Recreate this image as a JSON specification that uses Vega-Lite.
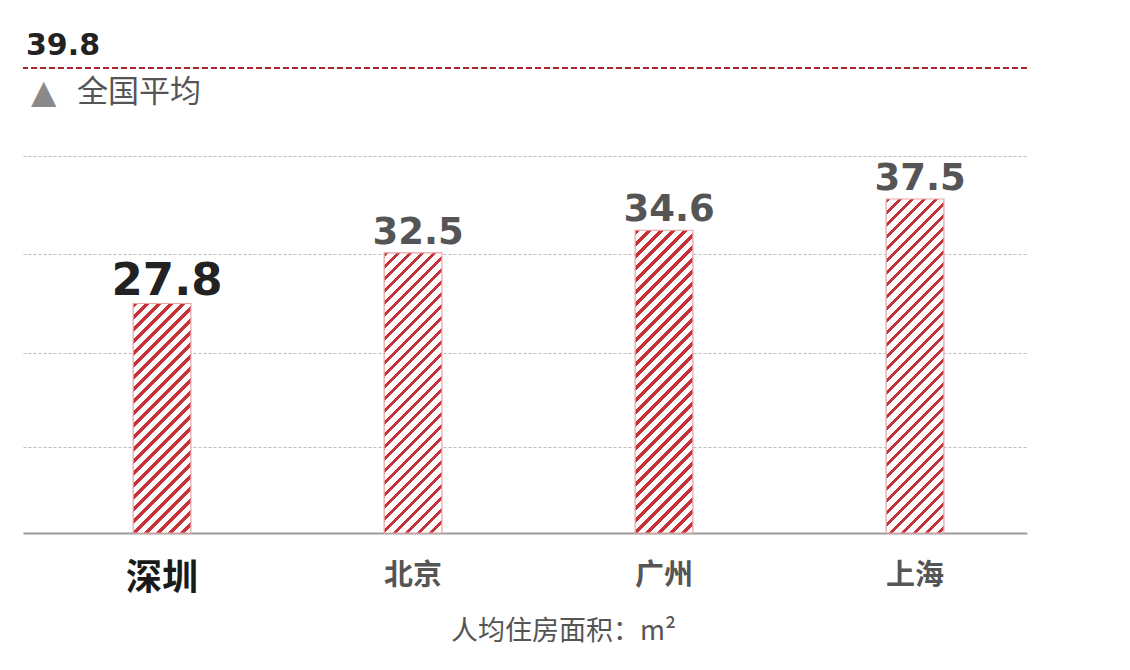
{
  "$schema": "https://vega.github.io/schema/vega-lite/v6.json",
  "width": 1004,
  "height": 465,
  "autosize": {"type": "none"},
  "padding": {"left": 23, "top": 68, "right": 103, "bottom": 137},
  "background": "#ffffff",
  "config": {"view": {"stroke": null}, "font": "Noto Sans CJK SC"},
  "datasets": {
    "cities": [
      {"city": "深圳", "value": 27.8},
      {"city": "北京", "value": 32.5},
      {"city": "广州", "value": 34.6},
      {"city": "上海", "value": 37.5}
    ],
    "avg": [{"name": "全国平均", "value": 39.8}]
  },
  "layer": [
    {
      "data": {"name": "cities"},
      "mark": {"type": "bar", "stroke": "#e8a3a3", "strokeWidth": 1.2},
      "encoding": {
        "x": {
          "field": "city", "type": "nominal", "sort": null,
          "scale": {"paddingInner": 0.77, "paddingOuter": 0.385, "align": 0.57},
          "axis": {
            "title": "人均住房面积：m²",
            "domainColor": "#9c9c9c", "domainWidth": 2,
            "ticks": false, "tickSize": 0, "labelAngle": 0, "labelPadding": 28,
            "labelFontSize": {"condition": {"test": "datum.value === '深圳'", "value": 36}, "value": 29},
            "labelColor": {"condition": {"test": "datum.value === '深圳'", "value": "#1a1a1a"}, "value": "#555555"},
            "labelFontWeight": "bold",
            "titleFontSize": 27, "titleFontWeight": "normal", "titleColor": "#555555",
            "titlePadding": 22, "titleX": 540, "titleAlign": "center"
          }
        },
        "y": {
          "field": "value", "type": "quantitative",
          "scale": {"domain": [6.5, 37.5, 39.8], "range": [465, 131, 0], "zero": false, "nice": false, "clamp": true},
          "axis": {"values": [14.5, 23.2, 32.4, 38.25], "grid": true, "gridDash": [3, 2], "gridColor": "#bdbdbd", "gridWidth": 1, "labels": false, "ticks": false, "domain": false, "title": null}
        },
        "fill": {
          "condition": [
            {"test": "datum.city === '深圳'", "value": {"gradient": "linear", "x1": 0, "y1": 0, "x2": 0.4946, "y2": 1.9672, "stops": [
{"offset":0,"color":"#c8313a"},{"offset":0.01,"color":"#c8313a"},{"offset":0.01,"color":"#fff"},{"offset":0.025,"color":"#fff"},
{"offset":0.025,"color":"#c8313a"},{"offset":0.035,"color":"#c8313a"},{"offset":0.035,"color":"#fff"},{"offset":0.05,"color":"#fff"},
{"offset":0.05,"color":"#c8313a"},{"offset":0.06,"color":"#c8313a"},{"offset":0.06,"color":"#fff"},{"offset":0.075,"color":"#fff"},
{"offset":0.075,"color":"#c8313a"},{"offset":0.085,"color":"#c8313a"},{"offset":0.085,"color":"#fff"},{"offset":0.1,"color":"#fff"},
{"offset":0.1,"color":"#c8313a"},{"offset":0.11,"color":"#c8313a"},{"offset":0.11,"color":"#fff"},{"offset":0.125,"color":"#fff"},
{"offset":0.125,"color":"#c8313a"},{"offset":0.135,"color":"#c8313a"},{"offset":0.135,"color":"#fff"},{"offset":0.15,"color":"#fff"},
{"offset":0.15,"color":"#c8313a"},{"offset":0.16,"color":"#c8313a"},{"offset":0.16,"color":"#fff"},{"offset":0.175,"color":"#fff"},
{"offset":0.175,"color":"#c8313a"},{"offset":0.185,"color":"#c8313a"},{"offset":0.185,"color":"#fff"},{"offset":0.2,"color":"#fff"},
{"offset":0.2,"color":"#c8313a"},{"offset":0.21,"color":"#c8313a"},{"offset":0.21,"color":"#fff"},{"offset":0.225,"color":"#fff"},
{"offset":0.225,"color":"#c8313a"},{"offset":0.235,"color":"#c8313a"},{"offset":0.235,"color":"#fff"},{"offset":0.25,"color":"#fff"},
{"offset":0.25,"color":"#c8313a"},{"offset":0.26,"color":"#c8313a"},{"offset":0.26,"color":"#fff"},{"offset":0.275,"color":"#fff"},
{"offset":0.275,"color":"#c8313a"},{"offset":0.285,"color":"#c8313a"},{"offset":0.285,"color":"#fff"},{"offset":0.3,"color":"#fff"},
{"offset":0.3,"color":"#c8313a"},{"offset":0.31,"color":"#c8313a"},{"offset":0.31,"color":"#fff"},{"offset":0.325,"color":"#fff"},
{"offset":0.325,"color":"#c8313a"},{"offset":0.335,"color":"#c8313a"},{"offset":0.335,"color":"#fff"},{"offset":0.35,"color":"#fff"},
{"offset":0.35,"color":"#c8313a"},{"offset":0.36,"color":"#c8313a"},{"offset":0.36,"color":"#fff"},{"offset":0.375,"color":"#fff"},
{"offset":0.375,"color":"#c8313a"},{"offset":0.385,"color":"#c8313a"},{"offset":0.385,"color":"#fff"},{"offset":0.4,"color":"#fff"},
{"offset":0.4,"color":"#c8313a"},{"offset":0.41,"color":"#c8313a"},{"offset":0.41,"color":"#fff"},{"offset":0.425,"color":"#fff"},
{"offset":0.425,"color":"#c8313a"},{"offset":0.435,"color":"#c8313a"},{"offset":0.435,"color":"#fff"},{"offset":0.45,"color":"#fff"},
{"offset":0.45,"color":"#c8313a"},{"offset":0.46,"color":"#c8313a"},{"offset":0.46,"color":"#fff"},{"offset":0.475,"color":"#fff"},
{"offset":0.475,"color":"#c8313a"},{"offset":0.485,"color":"#c8313a"},{"offset":0.485,"color":"#fff"},{"offset":0.5,"color":"#fff"},
{"offset":0.5,"color":"#c8313a"},{"offset":0.51,"color":"#c8313a"},{"offset":0.51,"color":"#fff"},{"offset":0.525,"color":"#fff"},
{"offset":0.525,"color":"#c8313a"},{"offset":0.535,"color":"#c8313a"},{"offset":0.535,"color":"#fff"},{"offset":0.55,"color":"#fff"},
{"offset":0.55,"color":"#c8313a"},{"offset":0.56,"color":"#c8313a"},{"offset":0.56,"color":"#fff"},{"offset":0.575,"color":"#fff"},
{"offset":0.575,"color":"#c8313a"},{"offset":0.585,"color":"#c8313a"},{"offset":0.585,"color":"#fff"},{"offset":0.6,"color":"#fff"},
{"offset":0.6,"color":"#c8313a"},{"offset":0.61,"color":"#c8313a"},{"offset":0.61,"color":"#fff"},{"offset":0.625,"color":"#fff"},
{"offset":0.625,"color":"#c8313a"},{"offset":0.635,"color":"#c8313a"},{"offset":0.635,"color":"#fff"},{"offset":0.65,"color":"#fff"}
            ]}},
            {"test": "datum.city === '北京'", "value": {"gradient": "linear", "x1": 0, "y1": 0, "x2": 0.3386, "y2": 1.6439, "stops": [
{"offset":0,"color":"#c8313a"},{"offset":0.01,"color":"#c8313a"},{"offset":0.01,"color":"#fff"},{"offset":0.025,"color":"#fff"},
{"offset":0.025,"color":"#c8313a"},{"offset":0.035,"color":"#c8313a"},{"offset":0.035,"color":"#fff"},{"offset":0.05,"color":"#fff"},
{"offset":0.05,"color":"#c8313a"},{"offset":0.06,"color":"#c8313a"},{"offset":0.06,"color":"#fff"},{"offset":0.075,"color":"#fff"},
{"offset":0.075,"color":"#c8313a"},{"offset":0.085,"color":"#c8313a"},{"offset":0.085,"color":"#fff"},{"offset":0.1,"color":"#fff"},
{"offset":0.1,"color":"#c8313a"},{"offset":0.11,"color":"#c8313a"},{"offset":0.11,"color":"#fff"},{"offset":0.125,"color":"#fff"},
{"offset":0.125,"color":"#c8313a"},{"offset":0.135,"color":"#c8313a"},{"offset":0.135,"color":"#fff"},{"offset":0.15,"color":"#fff"},
{"offset":0.15,"color":"#c8313a"},{"offset":0.16,"color":"#c8313a"},{"offset":0.16,"color":"#fff"},{"offset":0.175,"color":"#fff"},
{"offset":0.175,"color":"#c8313a"},{"offset":0.185,"color":"#c8313a"},{"offset":0.185,"color":"#fff"},{"offset":0.2,"color":"#fff"},
{"offset":0.2,"color":"#c8313a"},{"offset":0.21,"color":"#c8313a"},{"offset":0.21,"color":"#fff"},{"offset":0.225,"color":"#fff"},
{"offset":0.225,"color":"#c8313a"},{"offset":0.235,"color":"#c8313a"},{"offset":0.235,"color":"#fff"},{"offset":0.25,"color":"#fff"},
{"offset":0.25,"color":"#c8313a"},{"offset":0.26,"color":"#c8313a"},{"offset":0.26,"color":"#fff"},{"offset":0.275,"color":"#fff"},
{"offset":0.275,"color":"#c8313a"},{"offset":0.285,"color":"#c8313a"},{"offset":0.285,"color":"#fff"},{"offset":0.3,"color":"#fff"},
{"offset":0.3,"color":"#c8313a"},{"offset":0.31,"color":"#c8313a"},{"offset":0.31,"color":"#fff"},{"offset":0.325,"color":"#fff"},
{"offset":0.325,"color":"#c8313a"},{"offset":0.335,"color":"#c8313a"},{"offset":0.335,"color":"#fff"},{"offset":0.35,"color":"#fff"},
{"offset":0.35,"color":"#c8313a"},{"offset":0.36,"color":"#c8313a"},{"offset":0.36,"color":"#fff"},{"offset":0.375,"color":"#fff"},
{"offset":0.375,"color":"#c8313a"},{"offset":0.385,"color":"#c8313a"},{"offset":0.385,"color":"#fff"},{"offset":0.4,"color":"#fff"},
{"offset":0.4,"color":"#c8313a"},{"offset":0.41,"color":"#c8313a"},{"offset":0.41,"color":"#fff"},{"offset":0.425,"color":"#fff"},
{"offset":0.425,"color":"#c8313a"},{"offset":0.435,"color":"#c8313a"},{"offset":0.435,"color":"#fff"},{"offset":0.45,"color":"#fff"},
{"offset":0.45,"color":"#c8313a"},{"offset":0.46,"color":"#c8313a"},{"offset":0.46,"color":"#fff"},{"offset":0.475,"color":"#fff"},
{"offset":0.475,"color":"#c8313a"},{"offset":0.485,"color":"#c8313a"},{"offset":0.485,"color":"#fff"},{"offset":0.5,"color":"#fff"},
{"offset":0.5,"color":"#c8313a"},{"offset":0.51,"color":"#c8313a"},{"offset":0.51,"color":"#fff"},{"offset":0.525,"color":"#fff"},
{"offset":0.525,"color":"#c8313a"},{"offset":0.535,"color":"#c8313a"},{"offset":0.535,"color":"#fff"},{"offset":0.55,"color":"#fff"},
{"offset":0.55,"color":"#c8313a"},{"offset":0.56,"color":"#c8313a"},{"offset":0.56,"color":"#fff"},{"offset":0.575,"color":"#fff"},
{"offset":0.575,"color":"#c8313a"},{"offset":0.585,"color":"#c8313a"},{"offset":0.585,"color":"#fff"},{"offset":0.6,"color":"#fff"},
{"offset":0.6,"color":"#c8313a"},{"offset":0.61,"color":"#c8313a"},{"offset":0.61,"color":"#fff"},{"offset":0.625,"color":"#fff"},
{"offset":0.625,"color":"#c8313a"},{"offset":0.635,"color":"#c8313a"},{"offset":0.635,"color":"#fff"},{"offset":0.65,"color":"#fff"},
{"offset":0.65,"color":"#c8313a"},{"offset":0.66,"color":"#c8313a"},{"offset":0.66,"color":"#fff"},{"offset":0.675,"color":"#fff"},
{"offset":0.675,"color":"#c8313a"},{"offset":0.685,"color":"#c8313a"},{"offset":0.685,"color":"#fff"},{"offset":0.7,"color":"#fff"},
{"offset":0.7,"color":"#c8313a"},{"offset":0.71,"color":"#c8313a"},{"offset":0.71,"color":"#fff"},{"offset":0.725,"color":"#fff"},
{"offset":0.725,"color":"#c8313a"},{"offset":0.735,"color":"#c8313a"},{"offset":0.735,"color":"#fff"},{"offset":0.75,"color":"#fff"},
{"offset":0.75,"color":"#c8313a"},{"offset":0.76,"color":"#c8313a"},{"offset":0.76,"color":"#fff"},{"offset":0.775,"color":"#fff"}
            ]}},
            {"test": "datum.city === '广州'", "value": {"gradient": "linear", "x1": 0, "y1": 0, "x2": 0.2915, "y2": 1.5297, "stops": [
{"offset":0,"color":"#c8313a"},{"offset":0.01,"color":"#c8313a"},{"offset":0.01,"color":"#fff"},{"offset":0.025,"color":"#fff"},
{"offset":0.025,"color":"#c8313a"},{"offset":0.035,"color":"#c8313a"},{"offset":0.035,"color":"#fff"},{"offset":0.05,"color":"#fff"},
{"offset":0.05,"color":"#c8313a"},{"offset":0.06,"color":"#c8313a"},{"offset":0.06,"color":"#fff"},{"offset":0.075,"color":"#fff"},
{"offset":0.075,"color":"#c8313a"},{"offset":0.085,"color":"#c8313a"},{"offset":0.085,"color":"#fff"},{"offset":0.1,"color":"#fff"},
{"offset":0.1,"color":"#c8313a"},{"offset":0.11,"color":"#c8313a"},{"offset":0.11,"color":"#fff"},{"offset":0.125,"color":"#fff"},
{"offset":0.125,"color":"#c8313a"},{"offset":0.135,"color":"#c8313a"},{"offset":0.135,"color":"#fff"},{"offset":0.15,"color":"#fff"},
{"offset":0.15,"color":"#c8313a"},{"offset":0.16,"color":"#c8313a"},{"offset":0.16,"color":"#fff"},{"offset":0.175,"color":"#fff"},
{"offset":0.175,"color":"#c8313a"},{"offset":0.185,"color":"#c8313a"},{"offset":0.185,"color":"#fff"},{"offset":0.2,"color":"#fff"},
{"offset":0.2,"color":"#c8313a"},{"offset":0.21,"color":"#c8313a"},{"offset":0.21,"color":"#fff"},{"offset":0.225,"color":"#fff"},
{"offset":0.225,"color":"#c8313a"},{"offset":0.235,"color":"#c8313a"},{"offset":0.235,"color":"#fff"},{"offset":0.25,"color":"#fff"},
{"offset":0.25,"color":"#c8313a"},{"offset":0.26,"color":"#c8313a"},{"offset":0.26,"color":"#fff"},{"offset":0.275,"color":"#fff"},
{"offset":0.275,"color":"#c8313a"},{"offset":0.285,"color":"#c8313a"},{"offset":0.285,"color":"#fff"},{"offset":0.3,"color":"#fff"},
{"offset":0.3,"color":"#c8313a"},{"offset":0.31,"color":"#c8313a"},{"offset":0.31,"color":"#fff"},{"offset":0.325,"color":"#fff"},
{"offset":0.325,"color":"#c8313a"},{"offset":0.335,"color":"#c8313a"},{"offset":0.335,"color":"#fff"},{"offset":0.35,"color":"#fff"},
{"offset":0.35,"color":"#c8313a"},{"offset":0.36,"color":"#c8313a"},{"offset":0.36,"color":"#fff"},{"offset":0.375,"color":"#fff"},
{"offset":0.375,"color":"#c8313a"},{"offset":0.385,"color":"#c8313a"},{"offset":0.385,"color":"#fff"},{"offset":0.4,"color":"#fff"},
{"offset":0.4,"color":"#c8313a"},{"offset":0.41,"color":"#c8313a"},{"offset":0.41,"color":"#fff"},{"offset":0.425,"color":"#fff"},
{"offset":0.425,"color":"#c8313a"},{"offset":0.435,"color":"#c8313a"},{"offset":0.435,"color":"#fff"},{"offset":0.45,"color":"#fff"},
{"offset":0.45,"color":"#c8313a"},{"offset":0.46,"color":"#c8313a"},{"offset":0.46,"color":"#fff"},{"offset":0.475,"color":"#fff"},
{"offset":0.475,"color":"#c8313a"},{"offset":0.485,"color":"#c8313a"},{"offset":0.485,"color":"#fff"},{"offset":0.5,"color":"#fff"},
{"offset":0.5,"color":"#c8313a"},{"offset":0.51,"color":"#c8313a"},{"offset":0.51,"color":"#fff"},{"offset":0.525,"color":"#fff"},
{"offset":0.525,"color":"#c8313a"},{"offset":0.535,"color":"#c8313a"},{"offset":0.535,"color":"#fff"},{"offset":0.55,"color":"#fff"},
{"offset":0.55,"color":"#c8313a"},{"offset":0.56,"color":"#c8313a"},{"offset":0.56,"color":"#fff"},{"offset":0.575,"color":"#fff"},
{"offset":0.575,"color":"#c8313a"},{"offset":0.585,"color":"#c8313a"},{"offset":0.585,"color":"#fff"},{"offset":0.6,"color":"#fff"},
{"offset":0.6,"color":"#c8313a"},{"offset":0.61,"color":"#c8313a"},{"offset":0.61,"color":"#fff"},{"offset":0.625,"color":"#fff"},
{"offset":0.625,"color":"#c8313a"},{"offset":0.635,"color":"#c8313a"},{"offset":0.635,"color":"#fff"},{"offset":0.65,"color":"#fff"},
{"offset":0.65,"color":"#c8313a"},{"offset":0.66,"color":"#c8313a"},{"offset":0.66,"color":"#fff"},{"offset":0.675,"color":"#fff"},
{"offset":0.675,"color":"#c8313a"},{"offset":0.685,"color":"#c8313a"},{"offset":0.685,"color":"#fff"},{"offset":0.7,"color":"#fff"},
{"offset":0.7,"color":"#c8313a"},{"offset":0.71,"color":"#c8313a"},{"offset":0.71,"color":"#fff"},{"offset":0.725,"color":"#fff"},
{"offset":0.725,"color":"#c8313a"},{"offset":0.735,"color":"#c8313a"},{"offset":0.735,"color":"#fff"},{"offset":0.75,"color":"#fff"},
{"offset":0.75,"color":"#c8313a"},{"offset":0.76,"color":"#c8313a"},{"offset":0.76,"color":"#fff"},{"offset":0.775,"color":"#fff"},
{"offset":0.775,"color":"#c8313a"},{"offset":0.785,"color":"#c8313a"},{"offset":0.785,"color":"#fff"},{"offset":0.8,"color":"#fff"},
{"offset":0.8,"color":"#c8313a"},{"offset":0.81,"color":"#c8313a"},{"offset":0.81,"color":"#fff"},{"offset":0.825,"color":"#fff"}
            ]}}
          ],
          "value": {"gradient": "linear", "x1": 0, "y1": 0, "x2": 0.2411, "y2": 1.3955, "stops": [
{"offset":0,"color":"#c8313a"},{"offset":0.01,"color":"#c8313a"},{"offset":0.01,"color":"#fff"},{"offset":0.025,"color":"#fff"},
{"offset":0.025,"color":"#c8313a"},{"offset":0.035,"color":"#c8313a"},{"offset":0.035,"color":"#fff"},{"offset":0.05,"color":"#fff"},
{"offset":0.05,"color":"#c8313a"},{"offset":0.06,"color":"#c8313a"},{"offset":0.06,"color":"#fff"},{"offset":0.075,"color":"#fff"},
{"offset":0.075,"color":"#c8313a"},{"offset":0.085,"color":"#c8313a"},{"offset":0.085,"color":"#fff"},{"offset":0.1,"color":"#fff"},
{"offset":0.1,"color":"#c8313a"},{"offset":0.11,"color":"#c8313a"},{"offset":0.11,"color":"#fff"},{"offset":0.125,"color":"#fff"},
{"offset":0.125,"color":"#c8313a"},{"offset":0.135,"color":"#c8313a"},{"offset":0.135,"color":"#fff"},{"offset":0.15,"color":"#fff"},
{"offset":0.15,"color":"#c8313a"},{"offset":0.16,"color":"#c8313a"},{"offset":0.16,"color":"#fff"},{"offset":0.175,"color":"#fff"},
{"offset":0.175,"color":"#c8313a"},{"offset":0.185,"color":"#c8313a"},{"offset":0.185,"color":"#fff"},{"offset":0.2,"color":"#fff"},
{"offset":0.2,"color":"#c8313a"},{"offset":0.21,"color":"#c8313a"},{"offset":0.21,"color":"#fff"},{"offset":0.225,"color":"#fff"},
{"offset":0.225,"color":"#c8313a"},{"offset":0.235,"color":"#c8313a"},{"offset":0.235,"color":"#fff"},{"offset":0.25,"color":"#fff"},
{"offset":0.25,"color":"#c8313a"},{"offset":0.26,"color":"#c8313a"},{"offset":0.26,"color":"#fff"},{"offset":0.275,"color":"#fff"},
{"offset":0.275,"color":"#c8313a"},{"offset":0.285,"color":"#c8313a"},{"offset":0.285,"color":"#fff"},{"offset":0.3,"color":"#fff"},
{"offset":0.3,"color":"#c8313a"},{"offset":0.31,"color":"#c8313a"},{"offset":0.31,"color":"#fff"},{"offset":0.325,"color":"#fff"},
{"offset":0.325,"color":"#c8313a"},{"offset":0.335,"color":"#c8313a"},{"offset":0.335,"color":"#fff"},{"offset":0.35,"color":"#fff"},
{"offset":0.35,"color":"#c8313a"},{"offset":0.36,"color":"#c8313a"},{"offset":0.36,"color":"#fff"},{"offset":0.375,"color":"#fff"},
{"offset":0.375,"color":"#c8313a"},{"offset":0.385,"color":"#c8313a"},{"offset":0.385,"color":"#fff"},{"offset":0.4,"color":"#fff"},
{"offset":0.4,"color":"#c8313a"},{"offset":0.41,"color":"#c8313a"},{"offset":0.41,"color":"#fff"},{"offset":0.425,"color":"#fff"},
{"offset":0.425,"color":"#c8313a"},{"offset":0.435,"color":"#c8313a"},{"offset":0.435,"color":"#fff"},{"offset":0.45,"color":"#fff"},
{"offset":0.45,"color":"#c8313a"},{"offset":0.46,"color":"#c8313a"},{"offset":0.46,"color":"#fff"},{"offset":0.475,"color":"#fff"},
{"offset":0.475,"color":"#c8313a"},{"offset":0.485,"color":"#c8313a"},{"offset":0.485,"color":"#fff"},{"offset":0.5,"color":"#fff"},
{"offset":0.5,"color":"#c8313a"},{"offset":0.51,"color":"#c8313a"},{"offset":0.51,"color":"#fff"},{"offset":0.525,"color":"#fff"},
{"offset":0.525,"color":"#c8313a"},{"offset":0.535,"color":"#c8313a"},{"offset":0.535,"color":"#fff"},{"offset":0.55,"color":"#fff"},
{"offset":0.55,"color":"#c8313a"},{"offset":0.56,"color":"#c8313a"},{"offset":0.56,"color":"#fff"},{"offset":0.575,"color":"#fff"},
{"offset":0.575,"color":"#c8313a"},{"offset":0.585,"color":"#c8313a"},{"offset":0.585,"color":"#fff"},{"offset":0.6,"color":"#fff"},
{"offset":0.6,"color":"#c8313a"},{"offset":0.61,"color":"#c8313a"},{"offset":0.61,"color":"#fff"},{"offset":0.625,"color":"#fff"},
{"offset":0.625,"color":"#c8313a"},{"offset":0.635,"color":"#c8313a"},{"offset":0.635,"color":"#fff"},{"offset":0.65,"color":"#fff"},
{"offset":0.65,"color":"#c8313a"},{"offset":0.66,"color":"#c8313a"},{"offset":0.66,"color":"#fff"},{"offset":0.675,"color":"#fff"},
{"offset":0.675,"color":"#c8313a"},{"offset":0.685,"color":"#c8313a"},{"offset":0.685,"color":"#fff"},{"offset":0.7,"color":"#fff"},
{"offset":0.7,"color":"#c8313a"},{"offset":0.71,"color":"#c8313a"},{"offset":0.71,"color":"#fff"},{"offset":0.725,"color":"#fff"},
{"offset":0.725,"color":"#c8313a"},{"offset":0.735,"color":"#c8313a"},{"offset":0.735,"color":"#fff"},{"offset":0.75,"color":"#fff"},
{"offset":0.75,"color":"#c8313a"},{"offset":0.76,"color":"#c8313a"},{"offset":0.76,"color":"#fff"},{"offset":0.775,"color":"#fff"},
{"offset":0.775,"color":"#c8313a"},{"offset":0.785,"color":"#c8313a"},{"offset":0.785,"color":"#fff"},{"offset":0.8,"color":"#fff"},
{"offset":0.8,"color":"#c8313a"},{"offset":0.81,"color":"#c8313a"},{"offset":0.81,"color":"#fff"},{"offset":0.825,"color":"#fff"},
{"offset":0.825,"color":"#c8313a"},{"offset":0.835,"color":"#c8313a"},{"offset":0.835,"color":"#fff"},{"offset":0.85,"color":"#fff"}
          ]}
        }
      }
    },
    {
      "data": {"name": "cities"},
      "mark": {"type": "text", "font": "DejaVu Sans", "fontWeight": "bold", "baseline": "alphabetic", "align": "center", "dy": -9, "dx": 5},
      "encoding": {
        "x": {"field": "city", "type": "nominal", "sort": null},
        "y": {"field": "value", "type": "quantitative"},
        "text": {"field": "value", "type": "quantitative", "format": ".1f"},
        "size": {"condition": {"test": "datum.city === '深圳'", "value": 45}, "value": 37},
        "color": {"condition": {"test": "datum.city === '深圳'", "value": "#222222"}, "value": "#555555"}
      }
    },
    {
      "data": {"name": "avg"},
      "mark": {"type": "rule", "stroke": "#ad252c", "strokeWidth": 2, "strokeDash": [6, 3]},
      "encoding": {"y": {"field": "value", "type": "quantitative"}}
    },
    {
      "data": {"name": "avg"},
      "mark": {"type": "text", "font": "DejaVu Sans", "fontWeight": "bold", "fontSize": 30, "color": "#222222", "align": "left", "baseline": "alphabetic", "dy": -13},
      "encoding": {
        "x": {"value": 3},
        "y": {"field": "value", "type": "quantitative"},
        "text": {"field": "value", "type": "quantitative", "format": ".1f"}
      }
    },
    {
      "data": {"name": "avg"},
      "mark": {"type": "text", "font": "DejaVu Sans", "fontSize": 33, "color": "#8a8a8a", "align": "left", "baseline": "middle", "dy": 25},
      "encoding": {
        "x": {"value": 8},
        "y": {"field": "value", "type": "quantitative"},
        "text": {"value": "▲"}
      }
    },
    {
      "data": {"name": "avg"},
      "mark": {"type": "text", "font": "Noto Sans CJK SC", "fontSize": 31, "color": "#555555", "align": "left", "baseline": "middle", "dy": 25},
      "encoding": {
        "x": {"value": 54},
        "y": {"field": "value", "type": "quantitative"},
        "text": {"field": "name", "type": "nominal"}
      }
    }
  ]
}
